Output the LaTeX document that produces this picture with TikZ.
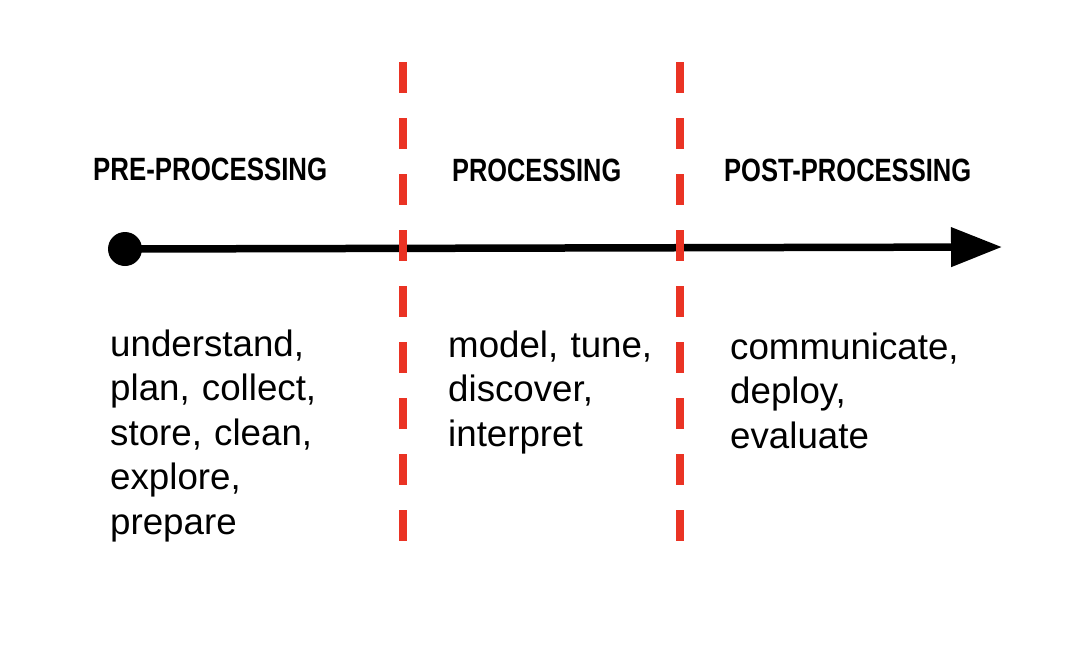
\documentclass[tikz,border=0pt]{standalone}
\usepackage{fontspec}
\setmainfont{Liberation Sans}
\usepackage{graphicx}
\usetikzlibrary{arrows.meta}
\definecolor{dashred}{HTML}{EA3324}
\newcommand\headlabel[3]{\resizebox{#1pt}{#2pt}{\bfseries #3}}
\begin{document}
\begin{tikzpicture}[x=1pt,y=-1pt,
  head/.style={anchor=base west, inner sep=0pt, text=black},
  body/.style={anchor=base west, inner sep=0pt, text width=300pt, align=left,
    font=\fontsize{36.7pt}{44.5pt}\selectfont},
  timeline/.style={line width=7.5pt, draw=black},
  divider/.style={line width=8pt, draw=dashred, dash pattern=on 31pt off 25pt}]
\useasboundingbox (0,0) rectangle (1074,648);
\fill[white] (0,0) rectangle (1074,648);
% timeline
\node[circle, fill=black, minimum size=34pt, inner sep=0pt] (start) at (125,249) {};
\coordinate (end) at (1002,247);
\draw[timeline, -{Triangle[length=51pt,width=38pt]}] (start.center) -- (end);
% dividers
\coordinate (d1top) at (403,62);
\coordinate (d1bot) at (403,541);
\coordinate (d2top) at (680,62);
\coordinate (d2bot) at (680,541);
\draw[divider] (d1top) -- (d1bot);
\draw[divider] (d2top) -- (d2bot);
% headers
\node[head] (h1) at (93,180) {\headlabel{234}{22.5}{PRE-PROCESSING}};
\node[head] (h2) at (452,181) {\headlabel{169}{22.5}{PROCESSING}};
\node[head] (h3) at (724,181) {\headlabel{247}{22.5}{POST-PROCESSING}};
% bodies
\node[body] (b1) at (110,356) {understand,\\plan, collect,\\store, clean,\\explore,\\prepare};
\node[body] (b2) at (448,357) {model, tune,\\discover,\\interpret};
\node[body] (b3) at (730,359) {communicate,\\deploy,\\evaluate};
\end{tikzpicture}
\end{document}
